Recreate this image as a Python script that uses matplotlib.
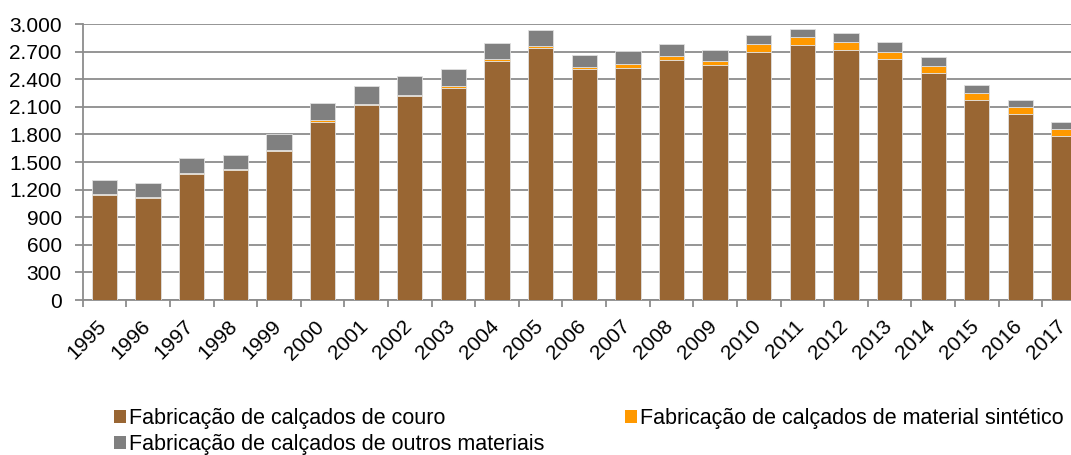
import matplotlib
matplotlib.use("Agg")
import matplotlib.pyplot as plt
from matplotlib.patches import Patch
from matplotlib.ticker import FuncFormatter, MultipleLocator
from matplotlib.transforms import ScaledTranslation
import numpy as np

years = ["1995", "1996", "1997", "1998", "1999", "2000", "2001", "2002", "2003",
         "2004", "2005", "2006", "2007", "2008", "2009", "2010", "2011", "2012",
         "2013", "2014", "2015", "2016", "2017"]
couro = [1140, 1108, 1370, 1410, 1620, 1938, 2120, 2217, 2308,
         2601, 2743, 2508, 2525, 2612, 2558, 2699, 2775, 2721,
         2623, 2464, 2177, 2025, 1786]
sintetico = [15, 10, 12, 15, 12, 18, 15, 11, 18,
             19, 18, 22, 40, 37, 43, 80, 80, 80,
             76, 83, 73, 69, 76]
outros = [145, 150, 158, 150, 170, 188, 195, 207, 181,
          177, 177, 133, 142, 134, 117, 102, 91, 98,
          102, 94, 90, 83, 73]
labels = ["Fabricação de calçados de couro",
          "Fabricação de calçados de material sintético",
          "Fabricação de calçados de outros materiais"]
colors = ["#996633", "#FF9900", "#808080"]

plt.rcParams['font.family'] = ['Liberation Sans', 'DejaVu Sans']

fig = plt.figure(figsize=(10.71, 4.55), dpi=100)
ax = fig.add_axes([82.7 / 1071, 1 - 300 / 455, (1085.8 - 82.7) / 1071, 276 / 455])

x = np.arange(len(years))
c = np.array(couro)
s = np.array(sintetico)
o = np.array(outros)
w = 0.58
ec = "#e0e0e0"
ax.bar(x, c, w, color=colors[0], edgecolor=ec, linewidth=0.6, zorder=3)
ax.bar(x, s, w, bottom=c, color=colors[1], edgecolor=ec, linewidth=0.6, zorder=3)
ax.bar(x, o, w, bottom=c + s, color=colors[2], edgecolor=ec, linewidth=0.6, zorder=3)

ax.set_xlim(-0.5, len(years) - 0.5)
ax.set_ylim(0, 3000)
ax.yaxis.set_major_locator(MultipleLocator(300))
ax.yaxis.set_major_formatter(FuncFormatter(lambda v, p: f"{int(v):,}".replace(",", ".")))
ax.grid(axis='y', color='#8c8c8c', linewidth=1.3, zorder=0)
ax.set_axisbelow(True)

for sp in ['top', 'right']:
    ax.spines[sp].set_visible(False)
for sp in ['left', 'bottom']:
    ax.spines[sp].set_color('#8c8c8c')
    ax.spines[sp].set_linewidth(1.3)

ax.set_xticks(x)
ax.set_xticklabels(years, rotation=45, ha='right', va='center', rotation_mode='anchor', fontsize=15)
ax.tick_params(axis='x', length=0, pad=17)
off = ScaledTranslation(-1 / 100, 0, fig.dpi_scale_trans)
for lab in ax.get_xticklabels():
    lab.set_transform(lab.get_transform() + off)
ax.set_xticks(np.arange(-0.5, len(years), 1), minor=True)
ax.tick_params(axis='x', which='minor', length=5, width=1.3, color='#8c8c8c')
ax.tick_params(axis='y', length=6, width=1.3, color='#8c8c8c', labelsize=15, pad=9)

handles = [Patch(facecolor=colors[0]), Patch(facecolor=colors[2]), Patch(facecolor=colors[1])]
hl = [labels[0], labels[2], labels[1]]
fig.legend(handles, hl, ncol=2, loc='upper left', bbox_to_anchor=(114 / 1071, 1 - 408 / 455),
           frameon=False, fontsize=15.5, handlelength=0.55, handleheight=0.55,
           handletextpad=0.15, columnspacing=3.75, labelspacing=0.22, borderaxespad=0, borderpad=0)

fig.savefig("out.png", dpi=100)
